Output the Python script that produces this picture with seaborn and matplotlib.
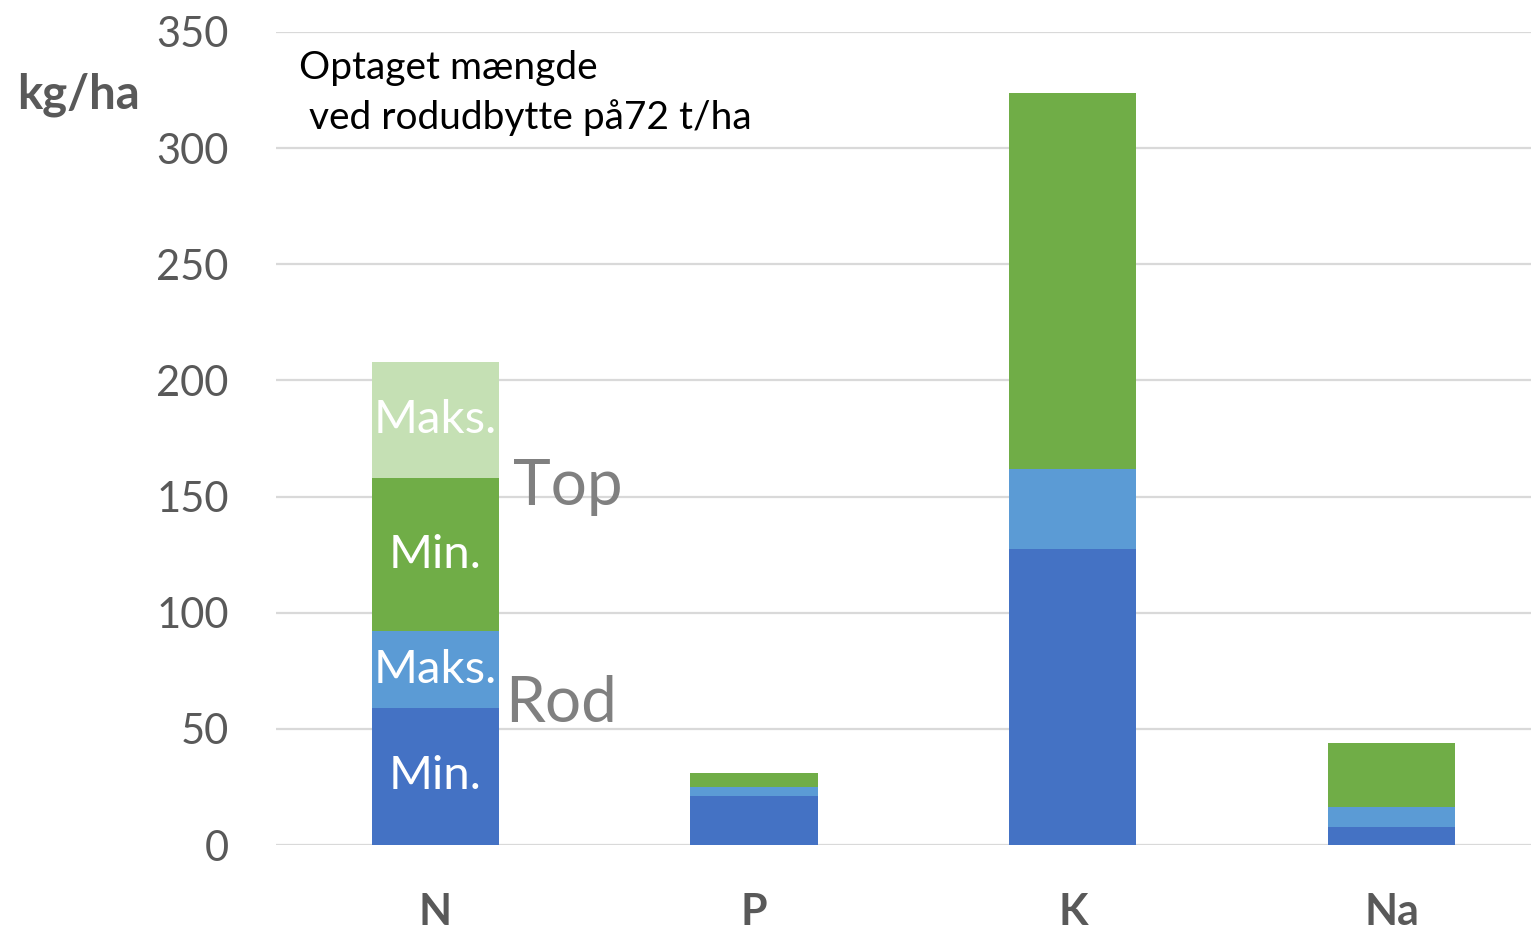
import matplotlib
matplotlib.use("Agg")
import matplotlib.pyplot as plt
import seaborn as sns
import numpy as np

# ---- data ----
categories = ["N", "P", "K", "Na"]
rod_min = [59, 21, 127.5, 7.6]
rod_maks = [33, 4, 34.2, 8.9]
top_min = [66, 6, 161.9, 27.3]
top_maks = [50, 0, 0, 0]
segment_labels = ["Min.", "Maks.", "Min.", "Maks."]
group_labels = ["Rod", "Top"]
y_ticks = [0, 50, 100, 150, 200, 250, 300, 350]
title_text = "Optaget mængde\n ved rodudbytte på72 t/ha"
y_unit = "kg/ha"

colors = ["#4472C4", "#5B9BD5", "#70AD47", "#C5E0B4"]

sns.set_theme(style="white")
plt.rcParams['font.family'] = ['Lato', 'DejaVu Sans']

fig = plt.figure(figsize=(15.31, 9.3), dpi=100)
ax = fig.add_axes([276/1531, 85/930, 1 - 276/1531, (845-32)/930])

segs = [rod_min, rod_maks, top_min, top_maks]
cum = np.cumsum(np.array(segs, dtype=float), axis=0)

# draw from tallest cumulative down so lower segments overlay
for i in range(3, -1, -1):
    sns.barplot(x=categories, y=cum[i], order=categories, color=colors[i],
                saturation=1, width=0.4, linewidth=0, ax=ax, zorder=3)

ax.set_xlim(-0.5, -0.5 + 1255/318.7)
ax.set_ylim(0, 350)
ax.set_yticks(y_ticks)
ax.set_yticklabels([str(t) for t in y_ticks])
ax.yaxis.grid(True, color="#D9D9D9", linewidth=1.6, zorder=0)
ax.set_axisbelow(True)
for s in ax.spines.values():
    s.set_visible(False)
ax.tick_params(axis="y", length=0, pad=34, labelsize=30, labelcolor="#595959")
ax.tick_params(axis="x", length=0, pad=34, labelsize=31, labelcolor="#595959")
for lab in ax.get_xticklabels():
    lab.set_fontweight("bold")
ax.set_xlabel("")
ax.set_ylabel("")

# segment labels within N bar
bottoms = np.vstack([np.zeros(4), cum[:-1]])
for i in range(4):
    yc = bottoms[i][0] + segs[i][0] / 2
    ax.text(0, yc, segment_labels[i], ha="center", va="center",
            color="white", fontsize=34, zorder=5)

# group labels
ax.text(0.22, (cum[0][0] + cum[1][0]) / 2 - 15, group_labels[0], ha="left", va="center",
        color="#808080", fontsize=46, zorder=5)
ax.text(0.245, cum[2][0] - 4, group_labels[1], ha="left", va="center",
        color="#808080", fontsize=46, zorder=5)

fig.text(17/1531, 1 - 95/930, y_unit, ha="left", va="center",
         fontsize=34, fontweight="bold", color="#595959")
fig.text(299/1531, 1 - 50/930, title_text, ha="left", va="top",
         fontsize=28, color="black", linespacing=1.45)

fig.savefig("out.png", dpi=100)
